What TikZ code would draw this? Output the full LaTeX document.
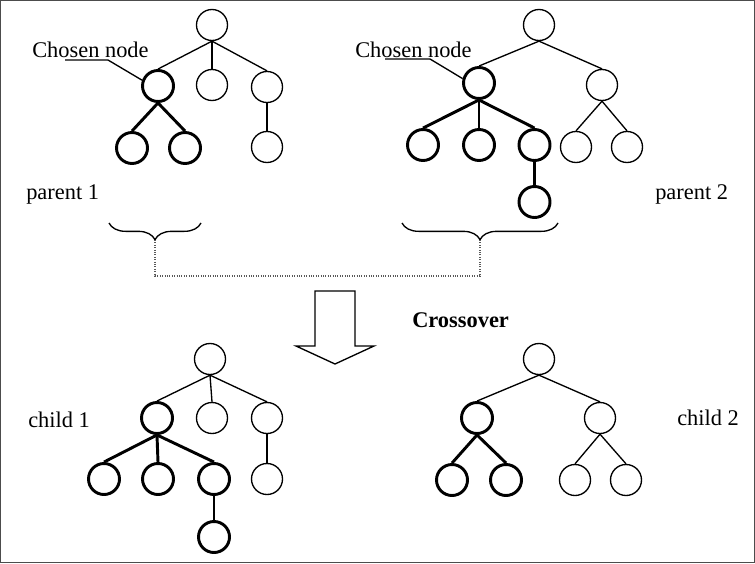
\documentclass[tikz,border=0pt]{standalone}
\usepackage{fontspec}
\setmainfont{Liberation Serif}
\usetikzlibrary{decorations.pathreplacing}

\begin{document}
\begin{tikzpicture}[x=0.75pt, y=-0.75pt,
        plain/.style={draw, circle, line width=1pt, minimum size=23.25pt, inner sep=0pt},
        picked/.style={plain, line width=2.2pt},
        twig/.style={line width=1pt},
        limb/.style={line width=2.2pt},
        caption/.style={anchor=base west, inner sep=0pt, font=\fontsize{16.8}{20}\selectfont}]

            \useasboundingbox (0,0) rectangle (755,563);
            \draw[gray!60!black, line width=1pt] (0.5,0.5) rectangle (754.5,562.5);

            % parent 1
            \node[plain]  (a0)  at (212,25)  {};
            \node[picked] (a1)  at (158,86)  {};
            \node[plain]  (a2)  at (212,85)  {};
            \node[plain]  (a3)  at (267,87)  {};
            \node[picked] (a11) at (132,148) {};
            \node[picked] (a12) at (185,148) {};
            \node[plain]  (a31) at (267,147) {};

            % parent 2
            \node[plain]  (b0)   at (539,25)  {};
            \node[picked] (b1)   at (479,83)  {};
            \node[plain]  (b2)   at (602,85)  {};
            \node[picked] (b11)  at (423,145) {};
            \node[picked] (b12)  at (479,145) {};
            \node[picked] (b13)  at (534.5,145) {};
            \node[picked] (b131) at (534.5,202) {};
            \node[plain]  (b21)  at (576,147) {};
            \node[plain]  (b22)  at (627,147) {};

            % child 1
            \node[plain]  (c0)   at (210,359) {};
            \node[picked] (c1)   at (157,418) {};
            \node[plain]  (c2)   at (212,418) {};
            \node[plain]  (c3)   at (267,418) {};
            \node[picked] (c11)  at (104,479) {};
            \node[picked] (c12)  at (158,479) {};
            \node[picked] (c13)  at (214,479) {};
            \node[picked] (c131) at (214,537) {};
            \node[plain]  (c31)  at (267,479) {};

            % child 2
            \node[plain]  (d0)  at (539,359) {};
            \node[picked] (d1)  at (477,418) {};
            \node[plain]  (d2)  at (600,418) {};
            \node[picked] (d11) at (452,480) {};
            \node[picked] (d12) at (506,480) {};
            \node[plain]  (d21) at (575,480) {};
            \node[plain]  (d22) at (626,480) {};

            \foreach \p/\c in {a0/a1, a0/a2, a0/a3, a3/a31, b0/b1, b0/b2, b2/b21, b2/b22,
                               c0/c1, c0/c2, c0/c3, c3/c31, d0/d1, d0/d2, d2/d21, d2/d22}
            \draw[twig] (\p.south) -- (\c.north);

            \foreach \p/\c in {a1/a11, a1/a12, b1/b11, b1/b12, b1/b13, b13/b131,
                               c1/c11, c1/c12, c1/c13, c13/c131, d1/d11, d1/d12}
            \draw[limb] (\p.south) -- (\c.north);

            \node[caption] (lab1) at (32,58)  {Chosen node};
            \node[caption] (lab2) at (355,58) {Chosen node};
            \coordinate (u1) at (65,60);
            \coordinate (u2) at (385,59);
            \draw[twig] (u1) -- ++(43,0) -- (a1.160);
            \draw[twig] (u2) -- ++(45,0) -- (b1.165);

            \node[caption] (p1) at (26,199)  {parent 1};
            \node[caption] (p2) at (655,199) {parent 2};

            \draw[decorate, decoration={brace, mirror, amplitude=12.5pt}, twig] (109,223) -- (201,223);
            \draw[decorate, decoration={brace, mirror, amplitude=12.5pt}, twig] (402,223) -- (558,223);
            \coordinate (t1) at (155,240);
            \coordinate (t2) at (480,240);
            \coordinate (bend) at (480,276);
            \draw[densely dotted, line width=0.8pt, gray!70!black] (t1) |- (bend) -- (t2);

            \draw[twig] (315,291) -- (355,291) -- (355,346) -- (374,346)
                -- (335,364) -- (296,346) -- (315,346) -- cycle;
            \node[caption, font=\fontsize{16.8}{20}\selectfont\bfseries] (xo) at (412,327) {Crossover};

            \node[caption] (k1) at (28,427)  {child 1};
            \node[caption] (k2) at (677,425) {child 2};
\end{tikzpicture}
\end{document}
